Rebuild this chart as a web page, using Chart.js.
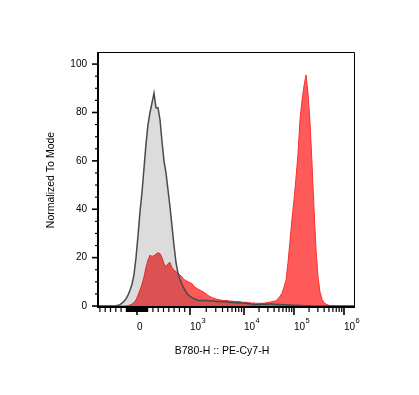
<!DOCTYPE html>
<html><head><meta charset="utf-8">
<script src="https://cdn.jsdelivr.net/npm/chart.js@4.4.1/dist/chart.umd.min.js"></script>
<style>html,body{margin:0;padding:0;background:#fff;overflow:hidden}canvas{display:block}</style>
</head><body>
<canvas id="c" width="419" height="395"></canvas>
<script>
// Histogram bins (display channels of the biexponential axis)
const binChannels = [
0,2,4,6,8,10,12,14,16,18,
20,22,24,26,28,30,32,34,36,38,
40,42,44,46,48,50,52,54,56,58,
60,62,64,66,68,70,72,74,76,78,
80,82,84,86,88,90,92,94,96,98,
100,102,104,106,108,110,112,114,116,118,
120,122,124,126,128,130,132,134,136,138,
140,142,144,146,148,150,152,154,156,158,
160,162,164,166,168,170,172,174,176,178,
180,182,184,186,188,190,192,194,196,198,
200,202,204,206,208,210,212,214,216,218,
220,222,224,226,228,230,232,234,236,238,
240,242,244,246,248,250,252,254,256];

// Unstained / control (grey) – normalized to mode
const controlCounts = [
0,0,0,0,0,0,0,0,0,0.1,
0.3,0.6,1.2,2,3,4.5,6.5,9,13,20,
29,39,47,57,67,75,80,84,88,82,
82,77,68,60,55,48,41,33,25,18,
13.5,11,9,7.3,5.8,4.7,4,3.5,3,2.7,
2.4,2.2,2.4,2.2,2.5,2.1,2.3,2,2.2,1.9,
2,1.8,2,1.7,1.9,1.6,1.7,1.5,1.6,1.4,
1.5,1.3,1.4,1.1,1.2,0.9,1,0.7,0.6,0.5,
0.6,0.7,0.8,0.7,0.8,0.7,0.9,0.8,0.7,0.6,
0.7,0.5,0.6,0.5,0.5,0.4,0.4,0.3,0.3,0.2,
0.3,0.2,0.2,0.1,0.1,0.1,0.1,0,0,0,
0,0,0,0,0,0,0,0,0,0,
0,0,0,0,0,0,0,0,0];

// Stained sample (red) – normalized to mode
const stainedCounts = [
0,0,0,0,0,0,0,0,0,0,
0,0,0,0,0,
0.2,0.4,0.8,1.5,2.5,4.5,6.6,9,12,16,
19,21,20.5,20.8,21.5,22,21.7,20,17.5,16.3,
17.5,18,15.8,14.8,14.2,13.5,12.8,12,11,10.5,
10,9.6,9.3,8.2,7.5,7,6.6,6.1,5.7,5,
4.4,3.9,3.5,3.2,2.9,2.7,2.5,2.4,2.2,2.3,
2.2,2,2.1,1.9,1.8,1.9,1.8,1.6,1.5,1.6,
1.4,1.3,1.2,1.3,1.1,1.2,1.1,1.1,1.2,1.3,
1.5,1.6,1.8,2,2.2,3,4,5.3,7.8,10.7,
18,27,36,44,53,63,77,85,91,95.5,
88,76,59,40,23.5,12,5.8,2.8,1.4,0.8,
0.4,0.2,0.1,
0,0,0,0,0,0,0,0,0,0,0];

const yTickValues = [0,5,10,15,20,25,30,35,40,45,50,55,60,65,70,75,80,85,90,95,100];
const yMajorEvery = 20;

const xMajorValues = [0, 1e3, 1e4, 1e5, 1e6];
const xMajorBase   = ['0', '10', '10', '10', '10'];
const xMajorExp    = ['', '3', '4', '5', '6'];
const xMinorValues = [
-700,-600,-500,-400,-300,-200,
-180,-170,-160,-150,-140,-130,-120,-110,-100,-90,-80,-70,-60,-50,-40,-30,-20,-10,
10,20,30,40,50,60,70,80,90,100,110,120,130,140,150,160,170,180,
200,300,400,500,600,700,800,900,
2e3,3e3,4e3,5e3,6e3,7e3,8e3,9e3,
2e4,3e4,4e4,5e4,6e4,7e4,8e4,9e4,
2e5,3e5,4e5,5e5,6e5,7e5,8e5,9e5];

const xAxisTitle = 'B780-H :: PE-Cy7-H';
const yAxisTitle = 'Normalized To Mode';

// Biexponential-like display transform (value -> channel)
const BIEX_ZERO = 39, BIEX_LIN = 0.053;
const DECADE_CH = {3: 92, 4: 146, 5: 196, 6: 246};
function toChannel(v) {
  if (Math.abs(v) <= 1000) return BIEX_ZERO + v * BIEX_LIN;
  const d = Math.log10(v), lo = Math.floor(d);
  const a = DECADE_CH[lo], b = DECADE_CH[lo + 1] !== undefined ? DECADE_CH[lo + 1] : a + 50;
  return a + (b - a) * (d - lo);
}

const FONT = '"Liberation Sans", Arial, sans-serif';

const axesPlugin = {
  id: 'axesPlugin',
  beforeDraw(chart) {
    const ctx = chart.ctx;
    ctx.save(); ctx.fillStyle = '#fff'; ctx.fillRect(0, 0, chart.width, chart.height); ctx.restore();
  },
  afterDraw(chart) {
    const ctx = chart.ctx, a = chart.chartArea;
    const xs = chart.scales.x, ys = chart.scales.y;
    ctx.save();
    ctx.strokeStyle = '#000';
    // top & right frame
    ctx.lineWidth = 1;
    ctx.beginPath();
    ctx.moveTo(a.left, a.top + 0.5); ctx.lineTo(a.right + 0.5, a.top + 0.5); ctx.lineTo(a.right + 0.5, a.bottom);
    ctx.stroke();
    // left & bottom axes
    ctx.lineWidth = 2;
    ctx.beginPath();
    ctx.moveTo(a.left, a.top); ctx.lineTo(a.left, a.bottom + 1);
    ctx.moveTo(a.left - 1, a.bottom); ctx.lineTo(a.right + 1, a.bottom);
    ctx.stroke();
    // y ticks
    yTickValues.forEach(v => {
      const py = ys.getPixelForValue(v);
      const major = v % yMajorEvery === 0;
      ctx.lineWidth = major ? 1.6 : 1.2;
      ctx.beginPath();
      ctx.moveTo(a.left - (major ? 6 : 3), py); ctx.lineTo(a.left, py);
      ctx.stroke();
    });
    // x minor ticks
    ctx.lineWidth = 1.2;
    xMinorValues.forEach(v => {
      const px = xs.getPixelForValue(toChannel(v));
      if (px < a.left - 1 || px > a.right + 1) return;
      ctx.beginPath(); ctx.moveTo(px, a.bottom); ctx.lineTo(px, a.bottom + 5); ctx.stroke();
    });
    // x major ticks + labels
    ctx.fillStyle = '#000';
    ctx.textBaseline = 'alphabetic';
    ctx.textAlign = 'left';
    xMajorValues.forEach((v, i) => {
      const px = xs.getPixelForValue(toChannel(v));
      ctx.lineWidth = 1.6;
      ctx.beginPath(); ctx.moveTo(px, a.bottom); ctx.lineTo(px, a.bottom + 8); ctx.stroke();
      ctx.font = '10px ' + FONT;
      ctx.fillText(xMajorBase[i], px, 330);
      if (xMajorExp[i]) {
        const w = ctx.measureText(xMajorBase[i]).width;
        ctx.font = '7.5px ' + FONT;
        ctx.fillText(xMajorExp[i], px + w + 0.5, 323);
      }
    });
    // axis titles
    ctx.font = '10.5px ' + FONT;
    ctx.textAlign = 'center';
    ctx.textBaseline = 'middle';
    ctx.fillText(xAxisTitle, 222, 351);
    ctx.translate(51, 180);
    ctx.rotate(-Math.PI / 2);
    ctx.fillText(yAxisTitle, 0, 0);
    ctx.restore();
  }
};

new Chart(document.getElementById('c'), {
  type: 'line',
  data: {
    datasets: [
      {
        label: 'Control',
        data: binChannels.map((c, i) => ({x: c, y: controlCounts[i]})),
        borderColor: '#4a4a4a',
        borderWidth: 1.5,
        backgroundColor: 'rgba(40,40,40,0.16)',
        fill: 'origin',
        pointRadius: 0,
        tension: 0
      },
      {
        label: 'Stained',
        data: binChannels.map((c, i) => ({x: c, y: stainedCounts[i]})),
        borderColor: '#ff2e2e',
        borderWidth: 1,
        backgroundColor: '#ff5a5a',
        fill: 'origin',
        pointRadius: 0,
        tension: 0
      }
    ]
  },
  options: {
    responsive: false,
    animation: false,
    events: [],
    layout: {padding: {top: 52, right: 65, left: 0, bottom: 0}},
    plugins: {legend: {display: false}, tooltip: {enabled: false}},
    scales: {
      x: {
        type: 'linear', min: 0, max: 256,
        grid: {display: false}, border: {display: false},
        ticks: {display: false},
        afterFit: s => { s.height = 88; }
      },
      y: {
        type: 'linear', min: -0.4, max: 105,
        afterBuildTicks: s => { s.ticks = yTickValues.map(v => ({value: v})); },
        grid: {display: true, drawOnChartArea: false, drawTicks: true, tickLength: 6, color: 'rgba(0,0,0,0)'},
        border: {display: false},
        ticks: {
          padding: 5, color: '#000', font: {family: FONT, size: 10},
          callback: v => (v % yMajorEvery === 0 ? String(v) : '')
        },
        afterFit: s => { s.width = 98; }
      }
    }
  },
  plugins: [axesPlugin]
});
</script>
</body></html>
